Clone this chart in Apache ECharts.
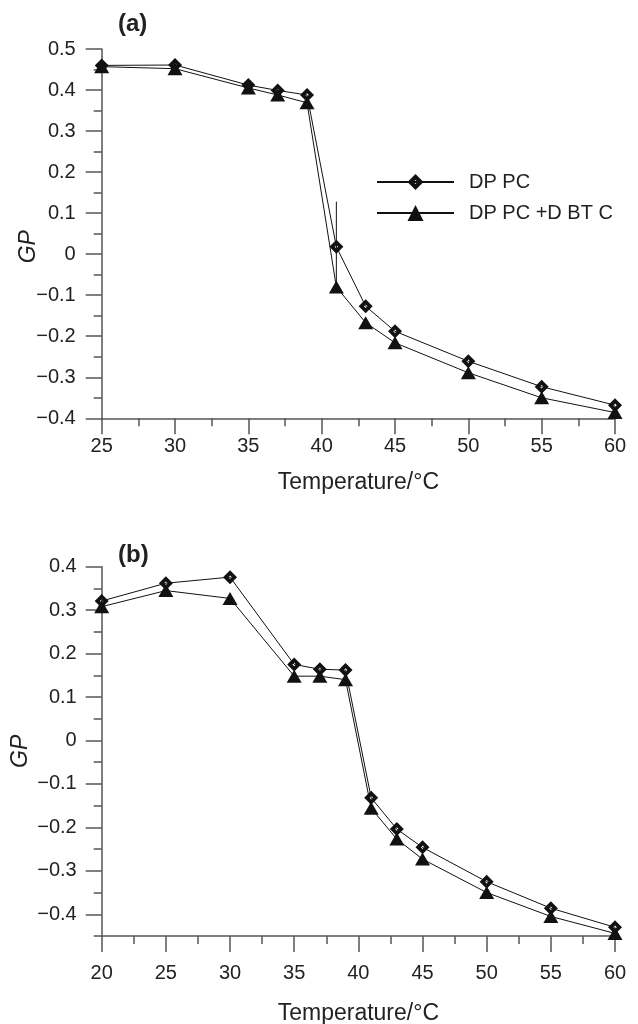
<!DOCTYPE html>
<html>
<head>
<meta charset="utf-8">
<script src="https://cdn.jsdelivr.net/npm/echarts@6/dist/echarts.min.js"></script>
<style>html,body{margin:0;padding:0;background:#fff}#c{width:638px;height:1024px}</style>
</head>
<body>
<div id="c"></div>
<script>
// Panel (a)
const tempA = [25, 30, 35, 37, 39, 41, 43, 45, 50, 55, 60];
const dppcA = [0.460, 0.461, 0.412, 0.399, 0.388, 0.018, -0.127, -0.188, -0.261, -0.323, -0.368];
const dbtcA = [0.457, 0.452, 0.405, 0.388, 0.369, -0.080, -0.167, -0.216, -0.289, -0.350, -0.386];
const errA = [[41, -0.078, 0.128]]; // x, low, high
// Panel (b)
const tempB = [20, 25, 30, 35, 37, 39, 41, 43, 45, 50, 55, 60];
const dppcB = [0.321, 0.362, 0.376, 0.175, 0.164, 0.162, -0.132, -0.204, -0.246, -0.325, -0.386, -0.430];
const dbtcB = [0.308, 0.345, 0.327, 0.148, 0.148, 0.140, -0.156, -0.227, -0.273, -0.350, -0.405, -0.444];
// Tick labels
const yMajorB = [-0.4, -0.3, -0.2, -0.1, 0, 0.1, 0.2, 0.3, 0.4];
const names = ['DP PC', 'DP PC +D BT C'];

const FONT = 'Liberation Sans, Arial, Helvetica, sans-serif';
const AX = '#555';
const fmt = v => {
  const r = Math.round(v * 100) / 100;
  if (Math.abs(r) < 1e-9) return '0';
  return (r < 0 ? '\u2212' : '') + Math.abs(r).toFixed(1);
};
const diamond = 'path://M0,-10 L10,0 L0,10 L-10,0 Z M0,-2.5 L-2.5,0 L0,2.5 L2.5,0 Z';
const zip = (xs, ys) => xs.map((x, i) => [x, ys[i]]);

const chart = echarts.init(document.getElementById('c'), null, {renderer: 'canvas'});

const xAxisBase = (min, gridIndex, labelMargin, nameGap) => ({
  type: 'value', gridIndex, min, max: 60, interval: 5,
  axisLine: {show: true, onZero: false, lineStyle: {color: AX, width: 1.5}},
  axisTick: {show: true, length: 16, lineStyle: {color: AX, width: 1.5}},
  minorTick: {show: true, splitNumber: 2, length: 8, lineStyle: {color: AX, width: 1.5}},
  splitLine: {show: false}, minorSplitLine: {show: false},
  axisLabel: {color: '#222', fontSize: 20, fontFamily: FONT, margin: labelMargin},
  name: 'Temperature/\u00b0C', nameLocation: 'middle', nameGap, nameMoveOverlap: false,
  nameTextStyle: {color: '#222', fontSize: 23, fontFamily: FONT}
});

const option = {
  animation: false,
  backgroundColor: '#fff',
  title: [
    {text: '(a)', left: 113, top: 7, textStyle: {fontSize: 24, fontWeight: 'bold', color: '#222', fontFamily: FONT}},
    {text: '(b)', left: 113, top: 538, textStyle: {fontSize: 24, fontWeight: 'bold', color: '#222', fontFamily: FONT}}
  ],
  legend: {
    data: names, orient: 'vertical', left: 376, top: 172, padding: 0,
    itemWidth: 77, itemHeight: 20, itemGap: 11,
    textStyle: {color: '#222', fontSize: 20, fontFamily: FONT, padding: [0, 0, 0, 10]}
  },
  grid: [
    {left: 101.7, right: 23, top: 49, height: 369.3, outerBoundsMode: 'none', containLabel: false},
    {left: 101.7, right: 23, top: 566.7, height: 369.3, outerBoundsMode: 'none', containLabel: false}
  ],
  xAxis: [xAxisBase(25, 0, 18, 53), xAxisBase(20, 1, 27, 66)],
  yAxis: [
    {
      type: 'value', gridIndex: 0, min: -0.4, max: 0.5, interval: 0.1,
      axisLine: {show: true, onZero: false, lineStyle: {color: AX, width: 1.5}},
      axisTick: {show: true, length: 16, lineStyle: {color: AX, width: 1.5}},
      minorTick: {show: true, splitNumber: 2, length: 8, lineStyle: {color: AX, width: 1.5}},
      splitLine: {show: false}, minorSplitLine: {show: false},
      axisLabel: {color: '#222', fontSize: 20, fontFamily: FONT, margin: 26, formatter: fmt},
      name: 'GP', nameLocation: 'middle', nameGap: 62, nameMoveOverlap: false,
      nameTextStyle: {color: '#222', fontSize: 23, fontStyle: 'italic', fontFamily: FONT, padding: [0, 26, 0, 0]}
    },
    {
      type: 'value', gridIndex: 1, min: -0.45, max: 0.4, interval: 0.05,
      axisLine: {show: true, onZero: false, lineStyle: {color: AX, width: 1.5}},
      axisTick: {show: true, length: 8, lineStyle: {color: AX, width: 1.5}},
      splitLine: {show: false},
      axisLabel: {color: '#222', fontSize: 20, fontFamily: FONT, margin: 25,
        formatter: v => (Math.abs(Math.round(v * 100) % 10) < 1e-6 ? fmt(v) : '')},
      name: 'GP', nameLocation: 'middle', nameGap: 70, nameMoveOverlap: false,
      nameTextStyle: {color: '#222', fontSize: 23, fontStyle: 'italic', fontFamily: FONT}
    },
    {
      type: 'value', gridIndex: 1, min: -0.45, max: 0.4, position: 'left',
      axisLine: {show: false},
      axisTick: {show: true, length: 16, customValues: yMajorB, lineStyle: {color: AX, width: 1.5}},
      splitLine: {show: false},
      axisLabel: {show: false}
    }
  ],
  series: [
    {
      name: names[0], type: 'line', xAxisIndex: 0, yAxisIndex: 0, data: zip(tempA, dppcA),
      symbol: diamond, symbolSize: 14, itemStyle: {color: '#111'}, lineStyle: {color: '#111', width: 1}, z: 3
    },
    {
      name: names[1], type: 'line', xAxisIndex: 0, yAxisIndex: 0, data: zip(tempA, dbtcA),
      symbol: 'triangle', symbolSize: [15, 13], itemStyle: {color: '#111'}, lineStyle: {color: '#111', width: 1}, z: 4
    },
    {
      name: 'err', type: 'custom', xAxisIndex: 0, yAxisIndex: 0, data: errA, z: 2,
      renderItem: (params, api) => {
        const p1 = api.coord([api.value(0), api.value(1)]);
        const p2 = api.coord([api.value(0), api.value(2)]);
        return {type: 'line', shape: {x1: p1[0], y1: p1[1], x2: p2[0], y2: p2[1]}, style: {stroke: '#111', lineWidth: 1}};
      }
    },
    {
      name: names[0], type: 'line', xAxisIndex: 1, yAxisIndex: 1, data: zip(tempB, dppcB),
      symbol: diamond, symbolSize: 14, itemStyle: {color: '#111'}, lineStyle: {color: '#111', width: 1}, z: 3
    },
    {
      name: names[1], type: 'line', xAxisIndex: 1, yAxisIndex: 1, data: zip(tempB, dbtcB),
      symbol: 'triangle', symbolSize: [15, 13], itemStyle: {color: '#111'}, lineStyle: {color: '#111', width: 1}, z: 4
    }
  ]
};
chart.setOption(option);
</script>
</body>
</html>
